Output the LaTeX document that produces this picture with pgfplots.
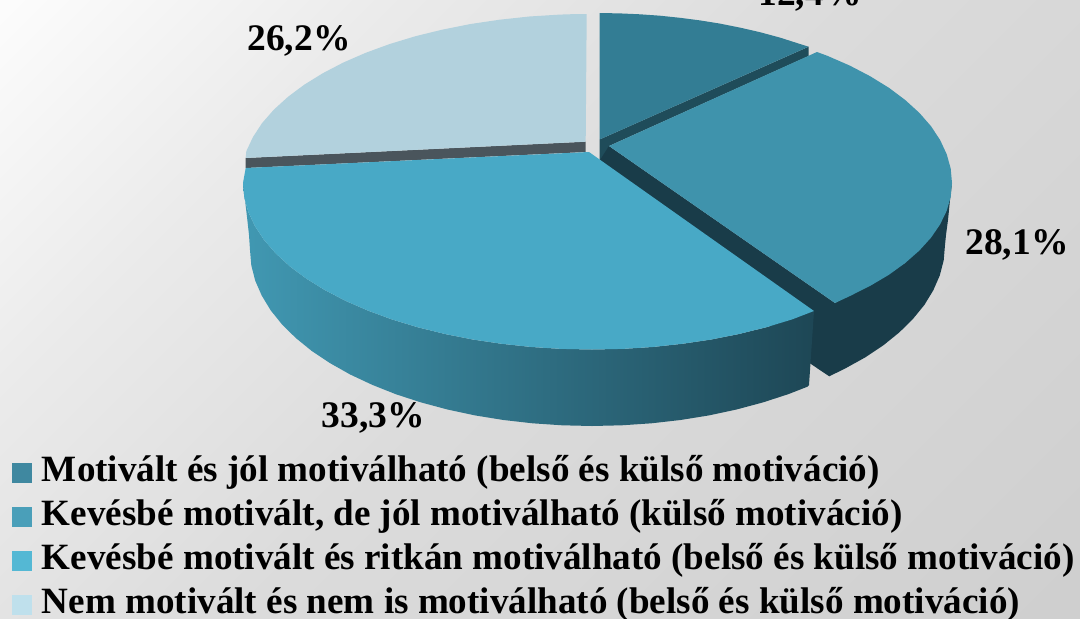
\documentclass[border=0pt]{standalone}
\usepackage{fontspec}
\setmainfont{Liberation Serif}
\usepackage{pgfplots}
\pgfplotsset{compat=1.18}
\definecolor{tealtop}{HTML}{337D94}
\definecolor{bluetwo}{HTML}{3F93AC}
\definecolor{bluethree}{HTML}{48A9C6}
\definecolor{lighttop}{HTML}{B2D1DD}
\definecolor{wallteal}{HTML}{1F4C5A}
\definecolor{walltwo}{HTML}{193C49}
\definecolor{walllight}{HTML}{4A555C}
\definecolor{legA}{HTML}{3F88A0}
\definecolor{legB}{HTML}{4A9FB9}
\definecolor{legC}{HTML}{54B8D4}
\definecolor{legD}{HTML}{BFE0EC}
\pgfdeclareverticalshading{bgshade}{100bp}{color(0bp)=(white!81!black); color(14.6bp)=(white!81!black); color(50bp)=(white!86!black); color(69.1bp)=(white!92!black); color(85.4bp)=(white!99!black); color(100bp)=(white!99!black)}
\begin{document}
\begin{tikzpicture}[x=1pt,y=1pt]
\useasboundingbox (0,0) rectangle (1080,619);
\shade[shading=bgshade,shading angle=45] (0,0) rectangle (1080,619);
\begin{axis}[at={(0,0)},anchor=south west,scale only axis,width=1080pt,height=619pt,
  xmin=0,xmax=1080,ymin=0,ymax=619,y dir=reverse,hide axis,clip=false,
  legend cell align=left,
  legend image code/.code={\fill[#1] (0pt,-10pt) rectangle (20pt,10pt);},
  legend style={at={(axis cs:12,621)},anchor=south west,draw=none,fill=none,inner sep=0pt,outer sep=0pt,
    font=\bfseries\fontsize{37.1}{37.1}\selectfont,row sep=11pt,column sep=10pt,
    nodes={inner sep=0pt,outer sep=0pt,text height=25pt,text depth=8pt}}]
% teal wall
\addplot[fill=wallteal,draw=none,forget plot] coordinates {(599.6,139.5)(808.6,46.7)(808.6,56)(609,146)(609,164)(599.6,160)} --cycle;
% teal top
\addplot[fill=tealtop,draw=none,forget plot] coordinates {(599.6,139.5)(599.6,13)(620,13.4)(640,14.3)(660,15.7)(680,17.8)(700,20.4)(720,23.6)(740,27.6)(760,32.2)(780,37.6)(800,44)(808.6,46.7)} --cycle;
% light wall
\addplot[fill=walllight,draw=none,forget plot] coordinates {(585.7,141.7)(245.7,158)(245.7,168)(585.7,152)} --cycle;
% light top
\addplot[fill=lighttop,draw=none,forget plot] coordinates {(585.7,141.7)(586.7,14)(578,14)(559.6,14.6)(529.4,16.5)(499.7,19.7)(470.6,24)(442.5,29.6)(415.5,36.2)(389.8,44)(365.7,52.8)(343.2,62.6)(322.7,73.3)(304.1,84.8)(287.8,97)(273.7,109.8)(262,123.2)(253,137)(246.3,151.2)(245.7,158)} --cycle;
% blue 2 walls
\addplot[fill=walltwo,draw=none,forget plot] coordinates {(609,146)(835,303)(905,263)(952,183)(950,200)(948,220)(946,235)(945,245)(943.7,260.3)(939.8,275.4)(933.3,290.3)(924.4,304.9)(912.9,319)(899.2,332.5)(883.2,345.4)(865,357.5)(844.8,368.7)(829.2,376.3)(805,360)(600,160)} --cycle;
% blue 2 top
\addplot[fill=bluetwo,draw=none,forget plot] coordinates {(609,146)(817,52)(827.3,55.8)(849.8,65.6)(870.3,76.3)(888.9,87.8)(905.2,100)(919.3,112.8)(931,126.2)(940.1,140)(946.7,154.2)(950.7,168.5)(952,183)(950.7,197)(946.7,210.8)(940.1,224.4)(931,237.7)(919.3,250.6)(905.2,263)(888.9,274.8)(870.3,285.8)(849.8,296.1)(835,303)} --cycle;
% blue 3 side
\addplot[shade,left color=bluethree!90!black,middle color=bluethree!62!black,right color=walltwo!90!bluethree,draw=none,forget plot] coordinates {(243,183)(244.3,197.5)(248.3,211.9)(254.9,226.1)(264,239.9)(275.7,253.4)(289.8,266.3)(306.1,278.5)(324.7,290)(345.2,300.7)(367.7,310.5)(391.8,319.4)(417.5,327.2)(444.5,333.9)(472.6,339.5)(501.7,343.8)(531.4,347)(561.6,348.9)(592,349.5)(622.4,348.9)(652.6,347)(682.3,343.8)(711.4,339.5)(739.5,333.9)(766.5,327.2)(792.2,319.4)(814,311)(809,385)(807.2,386.8)(788.2,394.2)(763,402.4)(736.5,409.5)(709,415.4)(680.5,420)(651.4,423.3)(621.8,425.3)(592,426)(562.2,425.3)(532.6,423.3)(503.5,420)(475,415.4)(447.5,409.5)(421,402.4)(395.8,394.2)(372.2,384.8)(350.2,374.5)(330,363.1)(311.8,351)(295.8,338)(282,324.4)(270.6,310.2)(261.7,295.5)(255.2,280.6)(251.3,265.3)(250,250)(249,235)(247,217)(245,200)} --cycle;
% blue 3 top
\addplot[fill=bluethree,draw=none,forget plot] coordinates {(589,152)(245.7,168)(243,183)(244.3,197.5)(248.3,211.9)(254.9,226.1)(264,239.9)(275.7,253.4)(289.8,266.3)(306.1,278.5)(324.7,290)(345.2,300.7)(367.7,310.5)(391.8,319.4)(417.5,327.2)(444.5,333.9)(472.6,339.5)(501.7,343.8)(531.4,347)(561.6,348.9)(592,349.5)(622.4,348.9)(652.6,347)(682.3,343.8)(711.4,339.5)(739.5,333.9)(766.5,327.2)(792.2,319.4)(814,311)} --cycle;
% labels
\node[anchor=base,font=\bfseries\fontsize{37.5}{37.5}\selectfont] at (axis cs:810,5) {12,4\%};
\node[anchor=base,font=\bfseries\fontsize{37.5}{37.5}\selectfont] at (axis cs:299,50) {26,2\%};
\node[anchor=base,font=\bfseries\fontsize{37.5}{37.5}\selectfont] at (axis cs:1017,254) {28,1\%};
\node[anchor=base,font=\bfseries\fontsize{37.5}{37.5}\selectfont] at (axis cs:373.5,427) {33,3\%};
\addlegendimage{fill=legA,draw=none}
\addlegendentry{Motivált és jól motiválható (belső és külső motiváció)}
\addlegendimage{fill=legB,draw=none}
\addlegendentry{Kevésbé motivált, de jól motiválható (külső motiváció)}
\addlegendimage{fill=legC,draw=none}
\addlegendentry{Kevésbé motivált és ritkán motiválható (belső és külső motiváció)}
\addlegendimage{fill=legD,draw=none}
\addlegendentry{Nem motivált és nem is motiválható (belső és külső motiváció)}
\end{axis}
\end{tikzpicture}
\end{document}
